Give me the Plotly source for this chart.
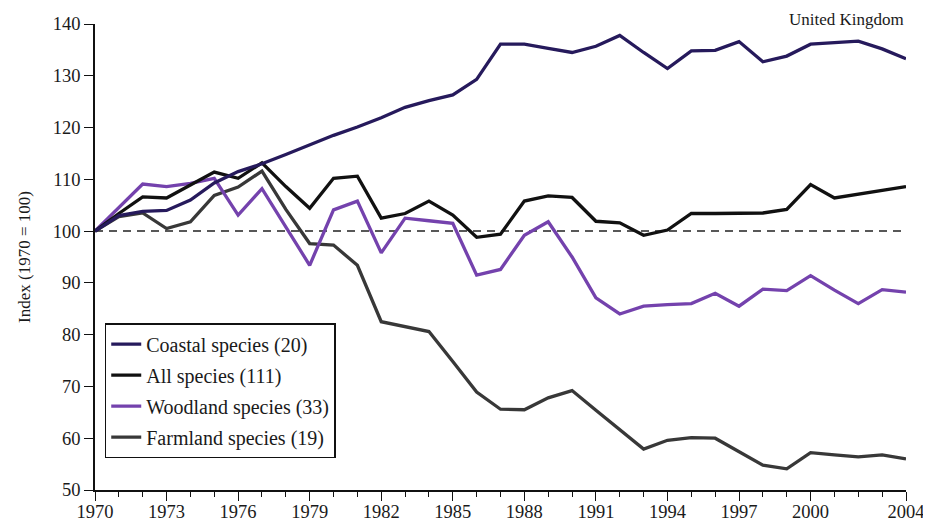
import plotly.graph_objects as go

years = list(range(1970, 2005))

coastal = [100, 103.0, 103.8, 104.0, 106.0, 109.3, 111.5, 113.0, 114.8, 116.6,
           118.5, 120.1, 121.9, 123.9, 125.2, 126.3, 129.3, 136.1, 136.1, 135.3,
           134.5, 135.7, 137.8, 134.5, 131.4, 134.8, 134.9, 136.6, 132.7, 133.8,
           136.1, 136.4, 136.7, 135.2, 133.3]

all_species = [100, 103.4, 106.6, 106.4, 108.9, 111.4, 110.2, 113.2, 108.6, 104.4,
               110.2, 110.6, 102.5, 103.4, 105.8, 103.1, 98.8, 99.4, 105.8, 106.8,
               106.5, 101.9, 101.6, 99.2, 100.2, 103.4, 103.4, 103.4, 103.5, 104.2,
               109.0, 106.4, 107.1, 107.9, 108.6]

woodland = [100, 104.5, 109.1, 108.6, 109.2, 110.2, 103.1, 108.2, 100.8, 93.4,
            104.1, 105.8, 95.8, 102.5, 102.0, 101.5, 91.5, 92.6, 99.2, 101.8,
            95.0, 87.1, 84.0, 85.5, 85.8, 86.0, 88.0, 85.5, 88.8, 88.5,
            91.4, 88.6, 86.0, 88.7, 88.2]

farmland = [100, 102.8, 103.5, 100.5, 101.8, 106.9, 108.5, 111.6, 104.2, 97.6,
            97.3, 93.4, 82.5, 81.6, 80.6, 74.8, 68.9, 65.6, 65.5, 67.8,
            69.2, 65.4, 61.6, 57.9, 59.6, 60.1, 60.0, 57.4, 54.8, 54.1,
            57.2, 56.8, 56.4, 56.8, 56.0]

baseline_x = [1970, 2004]
baseline_y = [100, 100]

series_names = ["Coastal species (20)", "All species (111)",
                "Woodland species (33)", "Farmland species (19)"]
series_colors = ["#261a5c", "#111111", "#7442ad", "#383838"]

xtick_vals = [1970, 1973, 1976, 1979, 1982, 1985, 1988, 1991, 1994, 1997, 2000, 2004]
xtick_text = [str(v) for v in xtick_vals]
ytick_vals = list(range(50, 141, 10))

FONT = "Liberation Serif"
TXT = "#1a1a1a"

fig = go.Figure()

fig.add_trace(go.Scatter(x=baseline_x, y=baseline_y, mode="lines",
                         line=dict(color="#222222", width=1.5, dash="8px,6px"),
                         showlegend=False, hoverinfo="skip"))

data = [coastal, all_species, woodland, farmland]
draw_order = [3, 2, 1, 0]
for i in draw_order:
    fig.add_trace(go.Scatter(
        x=years, y=data[i], mode="lines", name=series_names[i],
        line=dict(color=series_colors[i], width=3.3),
        legendgroup=f"g{i}", legendrank=i + 1,
    ))

fig.update_layout(
    width=923, height=523,
    margin=dict(l=87, r=25, t=16, b=41, autoexpand=False),
    paper_bgcolor="white", plot_bgcolor="white",
    font=dict(family=FONT, size=18, color=TXT),
    showlegend=True,
    legend=dict(
        x=0.012, y=0.358, xanchor="left", yanchor="top",
        bgcolor="white", bordercolor="#111111", borderwidth=1.5,
        font=dict(family=FONT, size=20, color=TXT),
        traceorder="grouped", tracegroupgap=2,
    ),
    xaxis=dict(
        range=[1970, 2004], tickmode="array", tickvals=xtick_vals, ticktext=xtick_text,
        ticks="outside", ticklen=9, tickwidth=1.3, tickcolor="#111111",
        minor=dict(dtick=1, tick0=1970, ticks="outside", ticklen=5,
                   tickwidth=1.2, tickcolor="#111111", showgrid=False),
        showline=True, linecolor="#111111", linewidth=1.8,
        showgrid=False, zeroline=False,
        tickfont=dict(family=FONT, size=18.5, color=TXT),
        ticklabeloverflow="allow", ticklabelstandoff=-5,
    ),
    yaxis=dict(
        range=[50, 140], tickmode="array", tickvals=ytick_vals,
        ticks="outside", ticklen=9, tickwidth=1.3, tickcolor="#111111",
        showline=True, linecolor="#111111", linewidth=1.8,
        showgrid=False, zeroline=False,
        tickfont=dict(family=FONT, size=18.5, color=TXT),
        title=dict(text="Index (1970 = 100)", standoff=18,
                   font=dict(family=FONT, size=17, color=TXT)),
    ),
    annotations=[dict(
        text="United Kingdom", xref="paper", yref="paper",
        x=1.0, y=1.009, xanchor="right", yanchor="middle",
        showarrow=False, font=dict(family=FONT, size=17, color=TXT),
    )],
)

fig.write_html("out.html")
